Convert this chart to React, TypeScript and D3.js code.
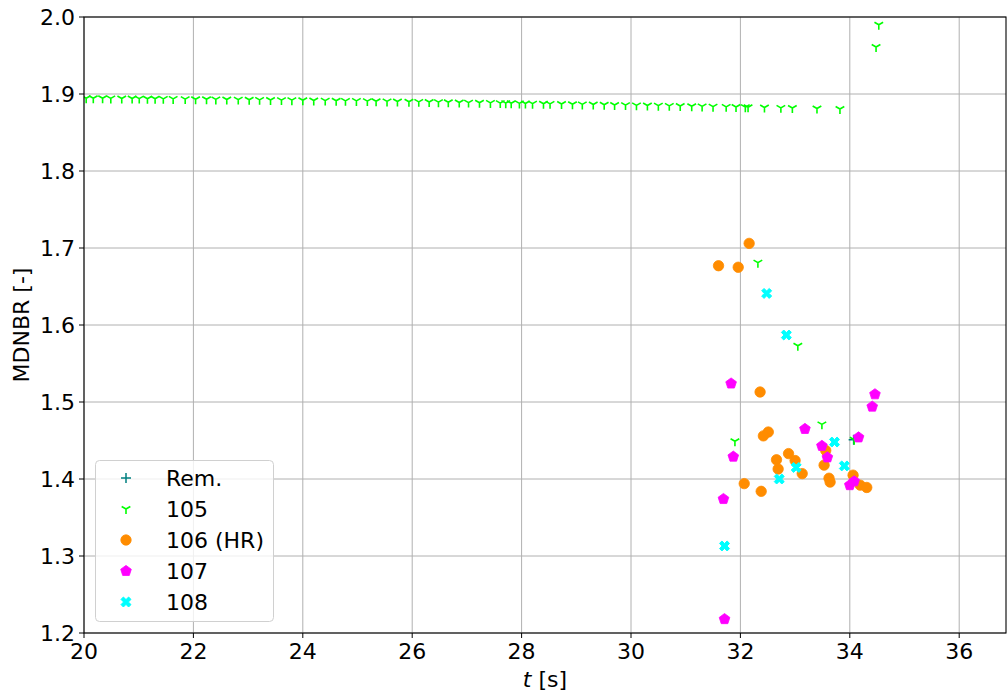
import React from "react";
import * as d3 from "d3";

const xTicks = [20, 22, 24, 26, 28, 30, 32, 34, 36];
const yTicks = [1.2, 1.3, 1.4, 1.5, 1.6, 1.7, 1.8, 1.9, 2.0];

const remX = [34.07];
const remY = [1.451];

const s105X = [20.04, 20.17, 20.34, 20.49, 20.69, 20.88, 21.01, 21.16, 21.3, 21.45, 21.63, 21.85, 22.04, 22.24, 22.41, 22.61, 22.82, 23.02, 23.21, 23.41, 23.61, 23.8, 24.0, 24.2, 24.41, 24.61, 24.78, 24.98, 25.18, 25.34, 25.54, 25.73, 25.94, 26.12, 26.31, 26.48, 26.66, 26.86, 27.03, 27.23, 27.43, 27.61, 27.71, 27.81, 27.96, 28.07, 28.2, 28.4, 28.52, 28.73, 28.93, 29.11, 29.31, 29.51, 29.7, 29.9, 30.1, 30.3, 30.5, 30.7, 30.9, 31.11, 31.3, 31.5, 31.74, 31.92, 32.09, 32.14, 32.44, 32.74, 32.95, 33.4, 33.82,
  34.48, 34.53, 32.32, 33.05, 31.9, 33.49, 34.08];
const s105Y = [1.8945, 1.8945, 1.8944, 1.8943, 1.8942, 1.8941, 1.894, 1.8939, 1.8938, 1.8937, 1.8936, 1.8934, 1.8932, 1.8931, 1.893, 1.8929, 1.8927, 1.8926, 1.8924, 1.8922, 1.8921, 1.892, 1.8918, 1.8916, 1.8914, 1.8912, 1.8911, 1.891, 1.8908, 1.8906, 1.8904, 1.8902, 1.89, 1.8898, 1.8896, 1.8894, 1.8892, 1.889, 1.8888, 1.8886, 1.8884, 1.8882, 1.8881, 1.888, 1.8878, 1.8877, 1.8875, 1.8873, 1.8872, 1.887, 1.8867, 1.8865, 1.8863, 1.886, 1.8858, 1.8856, 1.8853, 1.8851, 1.8849, 1.8846, 1.8844, 1.8841, 1.8839, 1.8836, 1.8833, 1.8831, 1.8829, 1.8828, 1.8824, 1.882, 1.8818, 1.8812, 1.8806,
  1.961, 1.99, 1.681, 1.573, 1.449, 1.471, 1.451];

const s106X = [32.16, 31.6, 31.96, 32.36, 32.51, 32.42, 32.88, 32.66, 33.0, 32.69, 33.13, 32.07, 32.38, 33.56, 33.53, 33.62, 33.64, 34.06, 34.19, 34.31];
const s106Y = [1.706, 1.677, 1.675, 1.513, 1.461, 1.456, 1.433, 1.425, 1.424, 1.413, 1.407, 1.394, 1.384, 1.437, 1.418, 1.401, 1.396, 1.405, 1.392, 1.389];

const s107X = [31.83, 34.46, 34.41, 33.18, 34.16, 33.49, 31.87, 33.59, 34.08, 34.0, 31.69, 31.71];
const s107Y = [1.524, 1.51, 1.494, 1.465, 1.454, 1.443, 1.429, 1.428, 1.397, 1.392, 1.374, 1.218];

const s108X = [32.48, 32.84, 33.72, 33.9, 33.02, 32.71, 31.71];
const s108Y = [1.641, 1.587, 1.448, 1.417, 1.415, 1.4, 1.313];

const legendLabels = ["Rem.", "105", "106 (HR)", "107", "108"];

const W = 1007, H = 693;
const L = 84, R = 1006, T = 17, B = 633;
const FONT = "DejaVu Sans, sans-serif";
const FS = 22;

const xScale = d3.scaleLinear().domain([20, 20 + (R - L) / 54.7]).range([L, R]);
const yScale = d3.scaleLinear().domain([1.2, 2.0]).range([B, T]);

type Kind = "plus" | "tri" | "circle" | "pent" | "x";

function Marker({ kind, x, y, color }: { kind: Kind; x: number; y: number; color: string }) {
  if (kind === "plus") {
    const r = 5;
    return <path d={`M${x - r},${y}H${x + r}M${x},${y - r}V${y + r}`} stroke={color} strokeWidth={1.5} fill="none" />;
  }
  if (kind === "tri") {
    const r = 5;
    const c = r * 0.866, s = r * 0.5;
    return <path d={`M${x},${y}V${y + r}M${x},${y}L${x - c},${y - s}M${x},${y}L${x + c},${y - s}`} stroke={color} strokeWidth={1.6} fill="none" />;
  }
  if (kind === "circle") {
    return <circle cx={x} cy={y} r={5.2} fill={color} stroke={color} strokeWidth={0.8} />;
  }
  if (kind === "pent") {
    const r = 5.6;
    const pts = d3.range(5).map((i) => {
      const a = -Math.PI / 2 + (i * 2 * Math.PI) / 5;
      return `${x + r * Math.cos(a)},${y + r * Math.sin(a)}`;
    });
    return <polygon points={pts.join(" ")} fill={color} stroke={color} strokeWidth={0.8} />;
  }
  // filled X
  const r = 5, w = 2.4;
  const p: [number, number][] = [
    [-r + w, -r], [0, -w], [r - w, -r], [r, -r + w], [w, 0], [r, r - w],
    [r - w, r], [0, w], [-r + w, r], [-r, r - w], [-w, 0], [-r, -r + w],
  ];
  return <polygon points={p.map(([a, b]) => `${x + a},${y + b}`).join(" ")} fill={color} stroke={color} strokeWidth={1} strokeLinejoin="round" />;
}

const series: { kind: Kind; color: string; xs: number[]; ys: number[] }[] = [
  { kind: "plus", color: "#008080", xs: remX, ys: remY },
  { kind: "tri", color: "#00ff00", xs: s105X, ys: s105Y },
  { kind: "circle", color: "#ff8c00", xs: s106X, ys: s106Y },
  { kind: "pent", color: "#ff00ff", xs: s107X, ys: s107Y },
  { kind: "x", color: "#00ffff", xs: s108X, ys: s108Y },
];

export default function App() {
  return (
    <svg width={W} height={H} style={{ position: "absolute", left: 0, top: 0, background: "white" }} fontFamily={FONT}>
      <rect x={0} y={0} width={W} height={H} fill="white" />
      <defs>
        <clipPath id="plotclip">
          <rect x={L} y={T} width={R - L} height={B - T} />
        </clipPath>
      </defs>
      {xTicks.map((t) => (
        <line key={"gx" + t} x1={xScale(t)} x2={xScale(t)} y1={T} y2={B} stroke="#b0b0b0" strokeWidth={1} />
      ))}
      {yTicks.map((t) => (
        <line key={"gy" + t} x1={L} x2={R} y1={yScale(t)} y2={yScale(t)} stroke="#b0b0b0" strokeWidth={1} />
      ))}
      <g clipPath="url(#plotclip)">
        {series.map((s, si) =>
          s.xs.map((xv, i) => (
            <Marker key={si + "-" + i} kind={s.kind} x={xScale(xv)} y={yScale(s.ys[i])} color={s.color} />
          ))
        )}
      </g>
      <rect x={L} y={T} width={R - L} height={B - T} fill="none" stroke="black" strokeWidth={1.1} />
      {xTicks.map((t) => (
        <g key={"tx" + t}>
          <line x1={xScale(t)} x2={xScale(t)} y1={B} y2={B + 5} stroke="black" strokeWidth={1} />
          <text x={xScale(t)} y={B + 26} textAnchor="middle" fontSize={FS}>{t}</text>
        </g>
      ))}
      {yTicks.map((t) => (
        <g key={"ty" + t}>
          <line x1={L - 5} x2={L} y1={yScale(t)} y2={yScale(t)} stroke="black" strokeWidth={1} />
          <text x={L - 9} y={yScale(t) + 8} textAnchor="end" fontSize={FS}>{t.toFixed(1)}</text>
        </g>
      ))}
      <text x={(L + R) / 2} y={687} textAnchor="middle" fontSize={FS}>
        <tspan fontStyle="italic">t</tspan> [s]
      </text>
      <text transform={`translate(29,${(T + B) / 2}) rotate(-90)`} textAnchor="middle" fontSize={FS}>MDNBR [-]</text>
      <rect x={95.5} y={460.5} width={178} height={161} rx={4} fill="white" fillOpacity={0.8} stroke="#d0d0d0" strokeWidth={1} />
      {series.map((s, i) => {
        const yy = 478 + i * 31;
        return (
          <g key={"lg" + i}>
            <Marker kind={s.kind} x={126} y={yy} color={s.color} />
            <text x={166} y={yy + 8} fontSize={FS}>{legendLabels[i]}</text>
          </g>
        );
      })}
    </svg>
  );
}
